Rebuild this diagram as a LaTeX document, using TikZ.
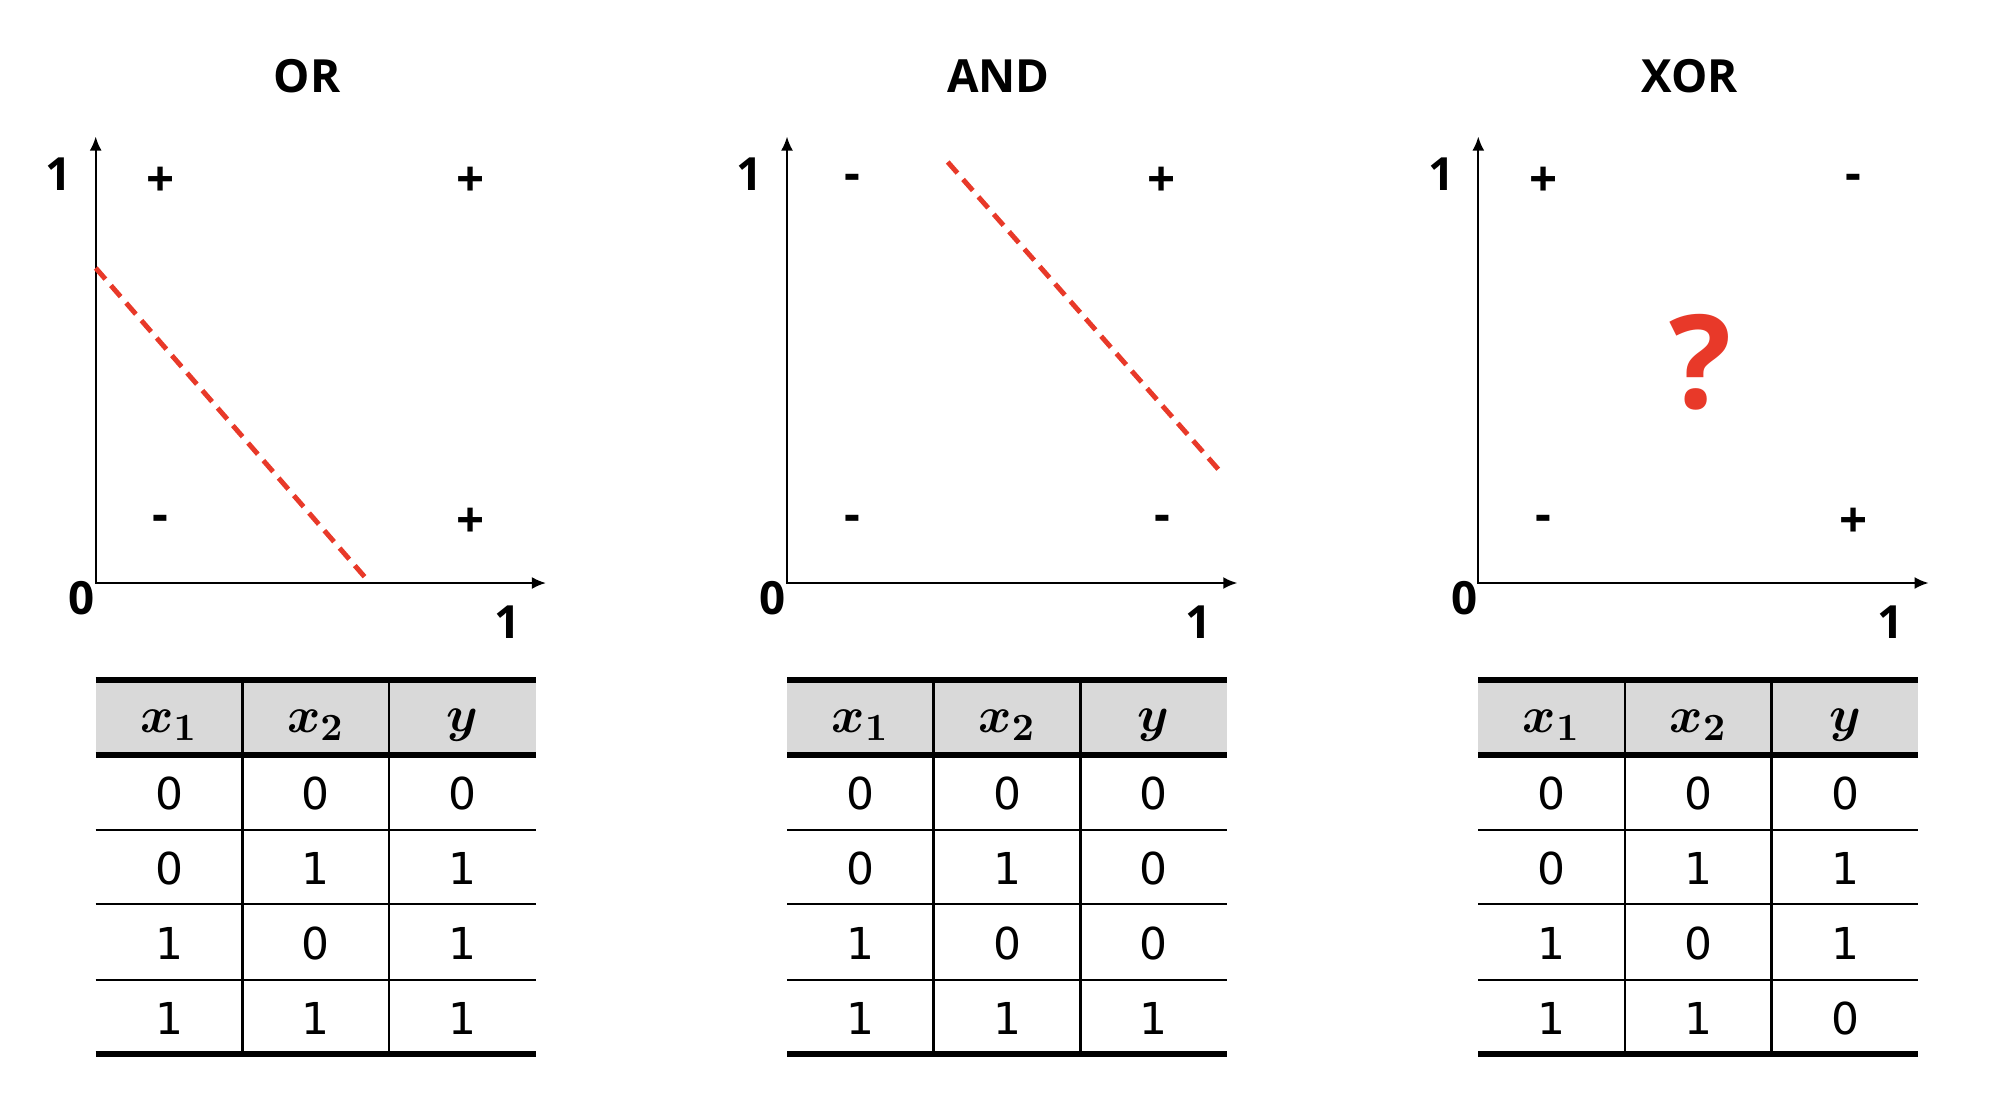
\documentclass[tikz,border=0pt]{standalone}
\usepackage{amsmath,amssymb}
\usepackage{fontspec}
\setmainfont{Open Sans}
\newfontfamily\digitfont{DejaVu Sans}
\usetikzlibrary{arrows.meta,positioning}
\definecolor{sepred}{RGB}{232,57,41}
\definecolor{headgray}{RGB}{217,217,217}

\begin{document}
\begin{tikzpicture}[
  x=0.01cm, y=-0.01cm,
  title/.style={font=\fontsize{13}{15}\selectfont\bfseries, inner sep=0pt},
  tick/.style={font=\fontsize{13}{15}\selectfont\bfseries, inner sep=0pt},
  sign/.style={font=\fontsize{14}{16}\selectfont\bfseries, inner sep=0pt},
  axis/.style={line width=0.6pt, {Latex[length=4pt,width=3.4pt]}-{Latex[length=4pt,width=3.4pt]}},
  sepline/.style={sepred, line width=1.4pt, dash pattern=on 4.2pt off 2.4pt},
  qmark/.style={sepred, font=\fontsize{37}{40}\selectfont\bfseries, inner sep=0pt},
  cell/.style={font=\fontsize{12.5}{15}\selectfont\digitfont, inner sep=0pt},
  head/.style={font=\fontsize{15}{17}\selectfont, inner sep=0pt},
  toprule/.style={line width=1.5pt},
  midrule/.style={line width=0.6pt},
  colrule/.style={line width=0.8pt}
]
\useasboundingbox (0,0) rectangle (2000,1103);

% one panel per gate: plot on top, truth table below
\foreach \gate/\lbl/\sx/\sa/\sb/\sc/\sd/\ya/\yb/\yc/\yd in
  {or/OR/0/+/+/-/+/0/1/1/1,
   and/AND/691.3/-/+/-/-/0/0/0/1,
   xor/XOR/1382.6/+/-/-/+/0/1/1/0} {
  \begin{scope}[shift={(\sx,0)}]
    \node[title] (\gate-title) at (307,76.5) {\lbl};
    \coordinate (\gate-o) at (95.7,583);
    \coordinate (\gate-yt) at (95.7,136.5);
    \coordinate (\gate-xt) at (546,583);
    \draw[axis] (\gate-yt) |- (\gate-xt);
    \node[tick] (\gate-y1) at (58.7,174) {1};
    \node[tick] (\gate-zero) at (81.6,598) {0};
    \node[tick] (\gate-x1) at (507.6,622) {1};
    % the four input points
    \node[sign] (\gate-p01) at (160.7,182) {\sa};
    \node[sign] (\gate-p11) at (470.7,182) {\sb};
    \node[sign] (\gate-p00) at (160.7,523) {\sc};
    \node[sign] (\gate-p10) at (470.7,523) {\sd};
    % table
    \fill[headgray] (95.7,680) rectangle (535.7,755);
    \foreach \yy in {830,904,980}
      \draw[midrule] (95.7,\yy) -- (535.7,\yy);
    \foreach \xx in {242.4,389}
      \draw[colrule] (\xx,680) -- (\xx,1054);
    \draw[toprule] (95.7,680) -- (535.7,680);
    \draw[toprule] (95.7,755) -- (535.7,755);
    \draw[toprule] (95.7,1054) -- (535.7,1054);
    \node[head] (\gate-h1) at (169,725) {$\boldsymbol{x_1}$};
    \node[head] (\gate-h2) at (315.7,725) {$\boldsymbol{x_2}$};
    \node[head] (\gate-h3) at (462.4,725) {$\boldsymbol{y}$};
    \foreach \a/\b/\c/\ry [count=\r] in
      {0/0/\ya/793, 0/1/\yb/868, 1/0/\yc/943, 1/1/\yd/1018} {
      \node[cell] (\gate-r\r a) at (169,\ry) {\a};
      \node[cell] (\gate-r\r b) at (315.7,\ry) {\b};
      \node[cell] (\gate-r\r c) at (462.4,\ry) {\c};
    }
  \end{scope}
}

% separating lines
\coordinate (or-s1) at (95.7,268);
\coordinate (or-s2) at (370,583);
\draw[sepline] (or-s1) -- (or-s2);
\coordinate (and-s1) at (947.7,162);
\coordinate (and-s2) at (1220.7,472);
\draw[sepline] (and-s1) -- (and-s2);
\node[qmark] (xor-q) at (1701,362) {?};
\end{tikzpicture}
\end{document}
